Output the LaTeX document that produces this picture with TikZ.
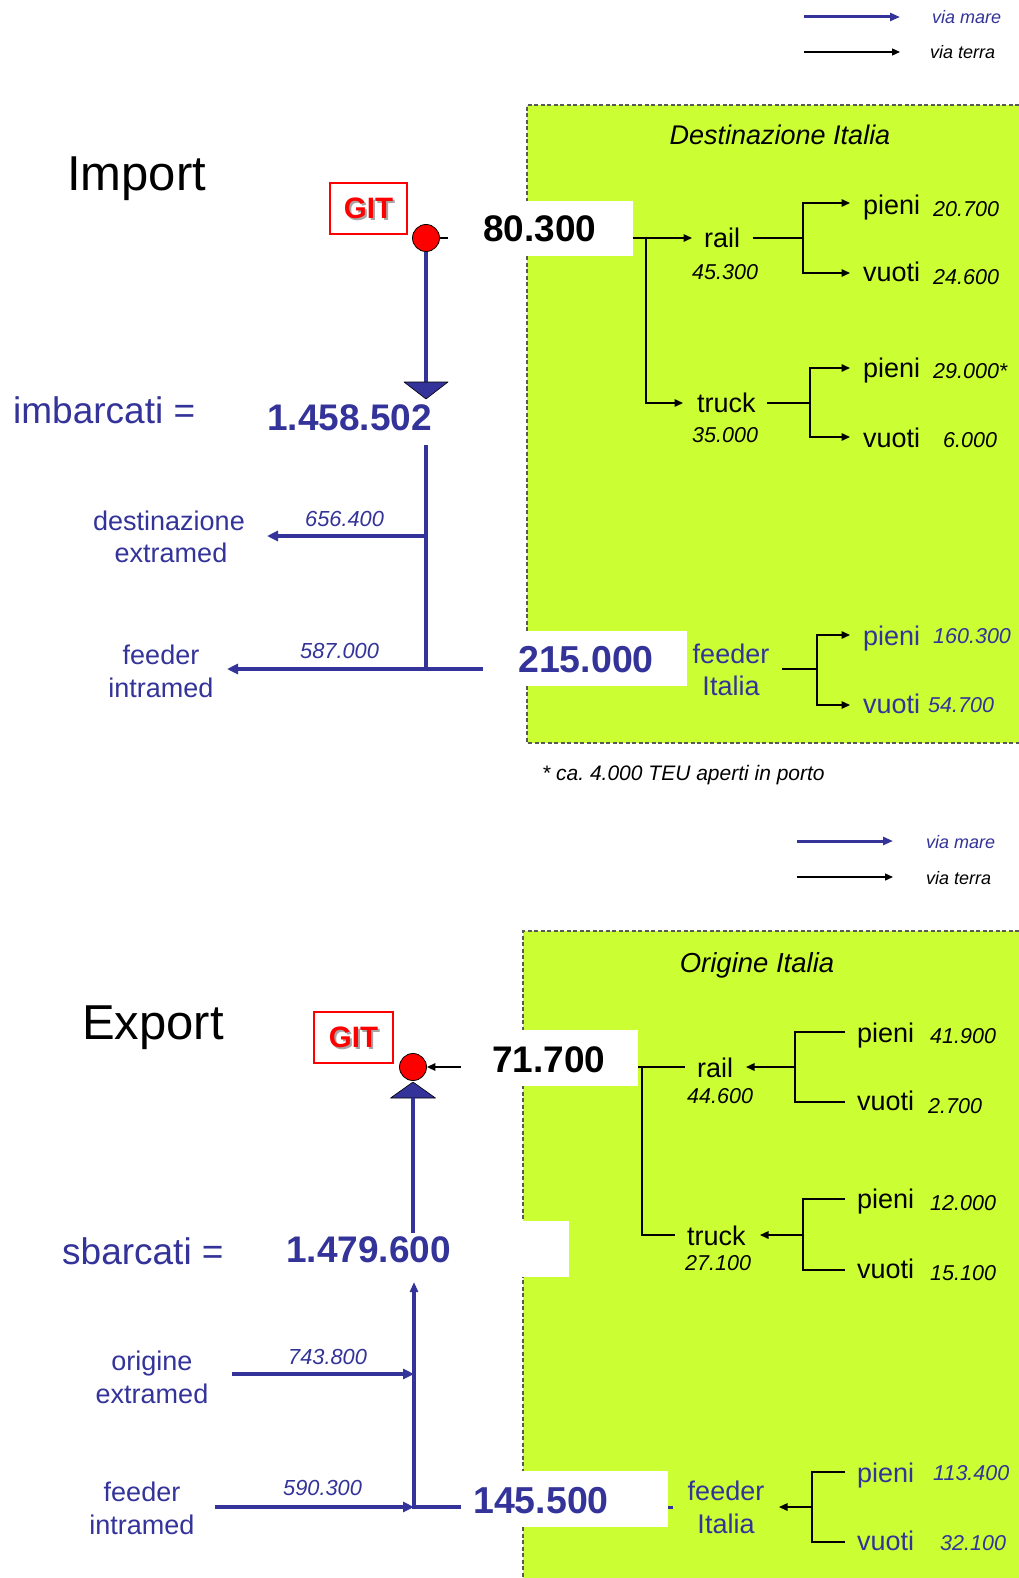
\documentclass[tikz,border=0pt]{standalone}
\usepackage{fontspec}
\setmainfont{Liberation Sans}
\usetikzlibrary{arrows.meta}
\definecolor{navy}{HTML}{333399}
\definecolor{lime}{HTML}{CCFF33}
\definecolor{gitred}{HTML}{FF0000}
\frenchspacing
\begin{document}
\begin{tikzpicture}[x=1pt,y=-1pt,
  fs/.style={font=\fontsize{#1}{#1}\selectfont},
  tl/.style={anchor=base west, inner sep=0pt},
  tc/.style={anchor=base, inner sep=0pt},
  title/.style={tl, fs=49},
  lab/.style={tl, fs=27},
  blab/.style={tc, fs=27, text=navy},
  tnum/.style={tl, font=\fontsize{21.5}{22}\selectfont\itshape},
  fnum/.style={tl, font=\fontsize{21.8}{22}\selectfont\itshape, text=navy},
  bigk/.style={tl, font=\fontsize{37}{37}\selectfont\bfseries},
  bigb/.style={tl, font=\fontsize{37}{37}\selectfont\bfseries, text=navy},
  hugeb/.style={tl, font=\fontsize{37.5}{37.5}\selectfont\bfseries, text=navy},
  eqlab/.style={tl, fs=37, text=navy},
  legtxt/.style={tl, font=\fontsize{18}{18}\selectfont\itshape},
  gitbox/.style={draw=gitred, line width=1.6pt, inner sep=0pt},
  gittxt/.style={inner sep=0pt, font=\fontsize{29.5}{29.5}\selectfont\bfseries},
  dot/.style={circle, fill=gitred, draw=black, line width=0.8pt, minimum size=27pt, inner sep=0pt},
  whitebox/.style={fill=white, draw=none, inner sep=0pt},
  dashedge/.style={draw=black!65, line width=1.2pt, dash pattern=on 4pt off 2.5pt},
  land/.style={draw=black, line width=1.5pt},
  landarr/.style={land, -{Triangle[length=8.5pt,width=7.5pt]}},
  sea/.style={draw=navy, line width=3.6pt},
  seaarr/.style={sea, -{Triangle[length=11pt,width=10pt]}},
  tri/.style={fill=navy, draw=black, line width=0.6pt, line join=round}
]
\useasboundingbox (0,0) rectangle (1019,1578);
\fill[white] (0,0) rectangle (1019,1578);

% ---------------- green areas ----------------
\fill[lime] (527,105) rectangle (1019,743);
\draw[dashedge] (1019,105) -- (527,105) -- (527,743) -- (1019,743);
\fill[lime] (523,931) rectangle (1019,1578);
\draw[dashedge] (1019,931) -- (523,931) -- (523,1578);

% ---------------- legends ----------------
\coordinate (la1) at (804,17);  \coordinate (la2) at (900,17);
\coordinate (lb1) at (804,52);  \coordinate (lb2) at (900,52);
\draw[draw=navy, line width=3pt, -{Triangle[length=10pt,width=8pt]}] (la1) -- (la2);
\draw[draw=black, line width=1.3pt, -{Triangle[length=8pt,width=7pt]}] (lb1) -- (lb2);
\node[legtxt, text=navy] (lmare1) at (932,24) {via mare};
\node[legtxt] (lterra1) at (930,59) {via terra};

\coordinate (lc1) at (797,841);  \coordinate (lc2) at (893,841);
\coordinate (ld1) at (797,877);  \coordinate (ld2) at (893,877);
\draw[draw=navy, line width=3pt, -{Triangle[length=10pt,width=8pt]}] (lc1) -- (lc2);
\draw[draw=black, line width=1.3pt, -{Triangle[length=8pt,width=7pt]}] (ld1) -- (ld2);
\node[legtxt, text=navy] (lmare2) at (926,848) {via mare};
\node[legtxt] (lterra2) at (926,884) {via terra};

% ================= IMPORT =================
\node[title] (import) at (67,191) {Import};
\node[tc, font=\fontsize{27}{27}\selectfont\itshape] (destit) at (780,145) {Destinazione Italia};

\node[gitbox, minimum width=77pt, minimum height=51pt] (git1) at (368.5,208.5) {};
\node[gittxt, text=black!35] (git1s) at ([shift={(2,2)}]git1.center) {GIT};
\node[gittxt, text=gitred] (git1t) at (git1.center) {GIT};

\node[whitebox, minimum width=185pt, minimum height=55pt] (b80) at (540.5,228.5) {};
\node[bigk] (n80) at (483,242) {80.300};
\node[dot] (c1) at (426,238) {};
\draw[land] (c1.east) -- (c1.east -| b80.west);

\coordinate (t1) at (426,399);
\draw[sea] (c1.south) -- (426,383);
\filldraw[tri] (t1) -- ++(-22,-17) -- ++(44,0) -- cycle;

\node[eqlab] (imb) at (13,423) {imbarcati =};
\node[bigb] (n1458) at (267,430) {1.458.502};

\coordinate (v1top) at (426,445);
\coordinate (jd) at (426,536);
\coordinate (v1bot) at (426,669);
\coordinate (ad) at (267,536);
\coordinate (af) at (227,669);
\draw[sea] (v1top) -- (v1bot);
\draw[seaarr] (jd) -- (ad);
\draw[seaarr] (v1bot) -- (af);
\node[fnum] (f656) at (305,526) {656.400};
\node[fnum] (f587) at (300,658) {587.000};
\node[blab] (dest1) at (169,530) {destinazione};
\node[blab] (dest2) at (171,562) {extramed};
\node[blab] (fin1) at (161,664) {feeder};
\node[blab] (fin2) at (161,697) {intramed};

\node[whitebox, minimum width=204pt, minimum height=55pt] (b215) at (585,658.5) {};
\draw[sea] (v1bot) -- (v1bot -| b215.west);
\node[hugeb] (n215) at (518,672) {215.000};

% import tree
\coordinate (jr) at (646,238);
\coordinate (arail) at (692,238);
\coordinate (atruck) at (683,403);
\draw[landarr] (b80.east |- jr) -- (arail);
\draw[landarr] (jr) |- (atruck);
\node[lab] (rail1) at (704,248) {rail};
\node[tnum] (r453) at (692,280) {45.300};
\node[lab] (truck1) at (697,412) {truck};
\node[tnum] (t350) at (692,442) {35.000};

\coordinate (srl) at (753,238);  \coordinate (jrl) at (803,238);
\coordinate (ap1) at (850,203);  \coordinate (av1) at (850,273);
\draw[land] (srl) -- (jrl);
\draw[landarr] (jrl) |- (ap1);
\draw[landarr] (jrl) |- (av1);
\node[lab] (p1) at (863,215) {pieni};
\node[tnum] (p1n) at (933,217) {20.700};
\node[lab] (v1) at (863,282) {vuoti};
\node[tnum] (v1n) at (933,285) {24.600};

\coordinate (str) at (767,403);  \coordinate (jtr) at (810,403);
\coordinate (ap2) at (850,368);  \coordinate (av2) at (850,437);
\draw[land] (str) -- (jtr);
\draw[landarr] (jtr) |- (ap2);
\draw[landarr] (jtr) |- (av2);
\node[lab] (p2) at (863,377) {pieni};
\node[tnum] (p2n) at (933,378) {29.000*};
\node[lab] (v2) at (863,447) {vuoti};
\node[tnum] (v2n) at (943,447) {6.000};

\node[blab] (fit1) at (731,663) {feeder};
\node[blab] (fit2) at (731,695) {Italia};
\coordinate (sfi) at (782,669);  \coordinate (jfi) at (817,669);
\coordinate (ap3) at (850,635);  \coordinate (av3) at (850,705);
\draw[land] (sfi) -- (jfi);
\draw[landarr] (jfi) |- (ap3);
\draw[landarr] (jfi) |- (av3);
\node[lab, text=navy] (p3) at (863,645) {pieni};
\node[tnum, text=navy] (p3n) at (933,643) {160.300};
\node[lab, text=navy] (v3) at (863,713) {vuoti};
\node[tnum, text=navy] (v3n) at (928,712) {54.700};

\node[tl, font=\fontsize{21}{21}\selectfont\itshape] (note) at (542,780) {* ca. 4.000 TEU aperti in porto};

% ================= EXPORT =================
\node[title] (export) at (82,1039) {Export};
\node[tc, font=\fontsize{27.5}{27.5}\selectfont\itshape] (origit) at (757,972) {Origine Italia};

\node[gitbox, minimum width=79pt, minimum height=51pt] (git2) at (353.5,1037.5) {};
\node[gittxt, text=black!35] (git2s) at ([shift={(2,2)}]git2.center) {GIT};
\node[gittxt, text=gitred] (git2t) at (git2.center) {GIT};

\node[whitebox, minimum width=177pt, minimum height=56pt] (b717) at (549.5,1058) {};
\node[bigk] (n717) at (492,1072) {71.700};
\node[dot] (c2) at (413,1067) {};
\draw[landarr] (b717.west |- c2) -- (c2.east);

\coordinate (t2) at (413,1082);
\filldraw[tri] (t2) -- ++(-22.5,16) -- ++(45,0) -- cycle;
\draw[sea] (413,1098) -- (413,1233);

\node[whitebox, minimum width=114pt, minimum height=56pt] (b1479) at (512,1249) {};
\node[eqlab] (sbc) at (62,1264) {sbarcati =};
\node[bigb] (n1479) at (286,1262) {1.479.600};

\node[whitebox, minimum width=207pt, minimum height=56pt] (b145) at (564.5,1499) {};
\coordinate (evb) at (414,1507);
\coordinate (eup) at (414,1282);
\coordinate (je) at (414,1374);
\coordinate (so) at (232,1374);
\coordinate (sf) at (215,1507);
\coordinate (tick) at (673,1507);
\draw[sea, -{Triangle[length=10pt,width=8pt]}] (b145.west |- evb) -- (evb) -- (eup);
\draw[seaarr] (so) -- (je);
\draw[seaarr] (sf) -- (evb);
\draw[draw=navy, line width=3pt] (b145.east |- tick) -- (tick);
\node[fnum] (f743) at (288,1364) {743.800};
\node[fnum] (f590) at (283,1495) {590.300};
\node[blab] (or1) at (152,1370) {origine};
\node[blab] (or2) at (152,1403) {extramed};
\node[blab] (fe1) at (142,1501) {feeder};
\node[blab] (fe2) at (142,1534) {intramed};
\node[hugeb] (n145) at (473,1513) {145.500};

% export tree
\coordinate (ejr) at (642,1067);
\coordinate (erl) at (685,1067);
\coordinate (etr) at (675,1235);
\draw[land] (b717.east |- ejr) -- (erl);
\draw[land] (ejr) |- (etr);
\node[lab] (rail2) at (697,1077) {rail};
\node[tnum] (r446) at (687,1103) {44.600};
\node[lab] (truck2) at (687,1245) {truck};
\node[tnum] (t271) at (685,1270) {27.100};

\coordinate (ejrl) at (795,1067);  \coordinate (earl) at (746,1067);
\coordinate (ep1) at (845,1032);   \coordinate (ev1) at (845,1102);
\draw[landarr] (ejrl) -- (earl);
\draw[land] (ep1) -| (ejrl) |- (ev1);
\node[lab] (ep1t) at (857,1042) {pieni};
\node[tnum] (ep1n) at (930,1043) {41.900};
\node[lab] (ev1t) at (857,1110) {vuoti};
\node[tnum] (ev1n) at (928,1113) {2.700};

\coordinate (ejtr) at (803,1235);  \coordinate (eatr) at (760,1235);
\coordinate (ep2) at (845,1199);   \coordinate (ev2) at (845,1270);
\draw[landarr] (ejtr) -- (eatr);
\draw[land] (ep2) -| (ejtr) |- (ev2);
\node[lab] (ep2t) at (857,1208) {pieni};
\node[tnum] (ep2n) at (930,1210) {12.000};
\node[lab] (ev2t) at (857,1278) {vuoti};
\node[tnum] (ev2n) at (930,1280) {15.100};

\node[blab] (efi1) at (726,1500) {feeder};
\node[blab] (efi2) at (726,1533) {Italia};
\coordinate (ejf) at (812,1507);  \coordinate (eaf) at (779,1507);
\coordinate (ep3) at (845,1472);  \coordinate (ev3) at (845,1542);
\draw[landarr] (ejf) -- (eaf);
\draw[land] (ep3) -| (ejf) |- (ev3);
\node[lab, text=navy] (ep3t) at (857,1482) {pieni};
\node[tnum, text=navy] (ep3n) at (933,1480) {113.400};
\node[lab, text=navy] (ev3t) at (857,1550) {vuoti};
\node[tnum, text=navy] (ev3n) at (940,1550) {32.100};
\end{tikzpicture}
\end{document}
